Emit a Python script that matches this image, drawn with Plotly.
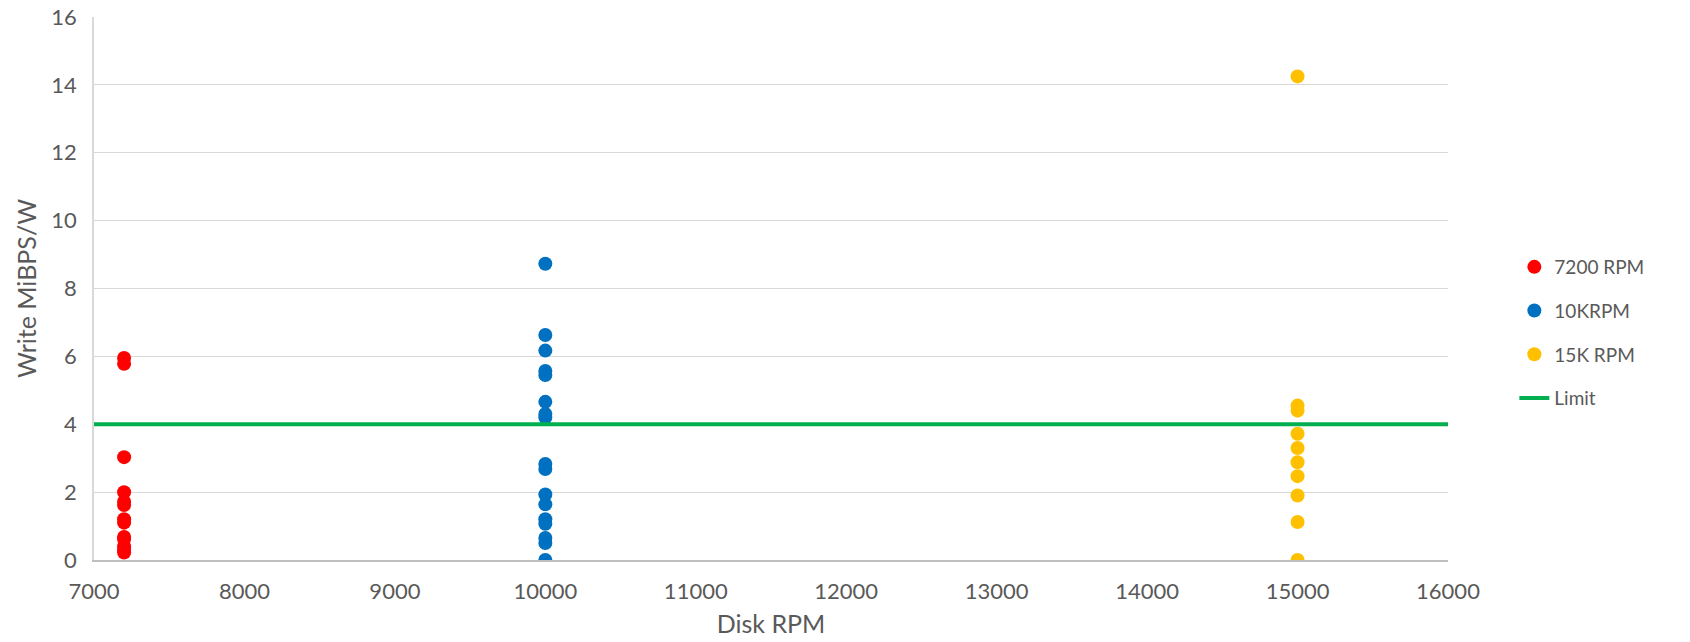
import plotly.graph_objects as go

# Data
x_7200 = [7200] * 13
y_7200 = [5.95, 5.78, 3.03, 2.0, 1.72, 1.62, 1.2, 1.1, 0.68, 0.62, 0.4, 0.3, 0.22]

x_10k = [10000] * 17
y_10k = [8.73, 6.63, 6.17, 5.57, 5.45, 4.66, 4.3, 4.2, 2.83, 2.68, 1.93, 1.64, 1.2, 1.07, 0.65, 0.5, 0.0]

x_15k = [15000] * 10
y_15k = [14.25, 4.55, 4.4, 3.72, 3.3, 2.88, 2.47, 1.9, 1.12, 0.0]

limit_x = [7000, 16000]
limit_y = [4, 4]

x_ticks = [7000, 8000, 9000, 10000, 11000, 12000, 13000, 14000, 15000, 16000]
y_ticks = [0, 2, 4, 6, 8, 10, 12, 14, 16]

FONT = "Lato"
GREY = "#595959"

fig = go.Figure()
fig.add_trace(go.Scatter(x=x_7200, y=y_7200, mode="markers", name="7200 RPM",
                         legendgroup="a",
                         marker=dict(color="#FF0000", size=14, line=dict(width=0))))
fig.add_trace(go.Scatter(x=x_10k, y=y_10k, mode="markers", name="10KRPM",
                         legendgroup="b",
                         marker=dict(color="#0070C0", size=14, line=dict(width=0))))
fig.add_trace(go.Scatter(x=x_15k, y=y_15k, mode="markers", name="15K RPM",
                         legendgroup="c",
                         marker=dict(color="#FFC000", size=14, line=dict(width=0))))
fig.add_trace(go.Scatter(x=limit_x, y=limit_y, mode="lines", name="Limit",
                         legendgroup="d",
                         line=dict(color="#00B050", width=4)))

fig.update_layout(
    width=1690, height=642,
    margin=dict(l=94, r=242, t=17, b=82),
    paper_bgcolor="white", plot_bgcolor="white",
    font=dict(family=FONT, size=22, color=GREY),
    legend=dict(x=1.049, xanchor="left", y=0.419, yanchor="middle",
                font=dict(family=FONT, size=19, color=GREY),
                tracegroupgap=16, bgcolor="rgba(0,0,0,0)"),
    xaxis=dict(range=[7000, 16000], tickvals=x_ticks,
               ticktext=[str(v) for v in x_ticks],
               showgrid=False, zeroline=False, automargin=False,
               showline=True, linecolor="#BFBFBF", linewidth=1.5,
               ticks="", ticklabelstandoff=11, ticklabeloverflow="allow",
               tickfont=dict(size=22, color=GREY),
               title=dict(text="Disk RPM", font=dict(size=25, color=GREY), standoff=12)),
    yaxis=dict(range=[0, 16], tickvals=y_ticks,
               ticktext=[str(v) for v in y_ticks],
               showgrid=True, gridcolor="#D9D9D9", gridwidth=1,
               zeroline=False, automargin=False,
               showline=True, linecolor="#D9D9D9", linewidth=1.5,
               ticks="", ticklabelstandoff=11, ticklabeloverflow="allow",
               tickfont=dict(size=22, color=GREY),
               title=dict(text="Write MiBPS/W", font=dict(size=25, color=GREY), standoff=8)),
)

# remove the browser's default body margin so the 1690x642 figure fills the window exactly
fig.write_html("out.html", config={"displayModeBar": False},
               post_script="document.body.style.margin='0';")
